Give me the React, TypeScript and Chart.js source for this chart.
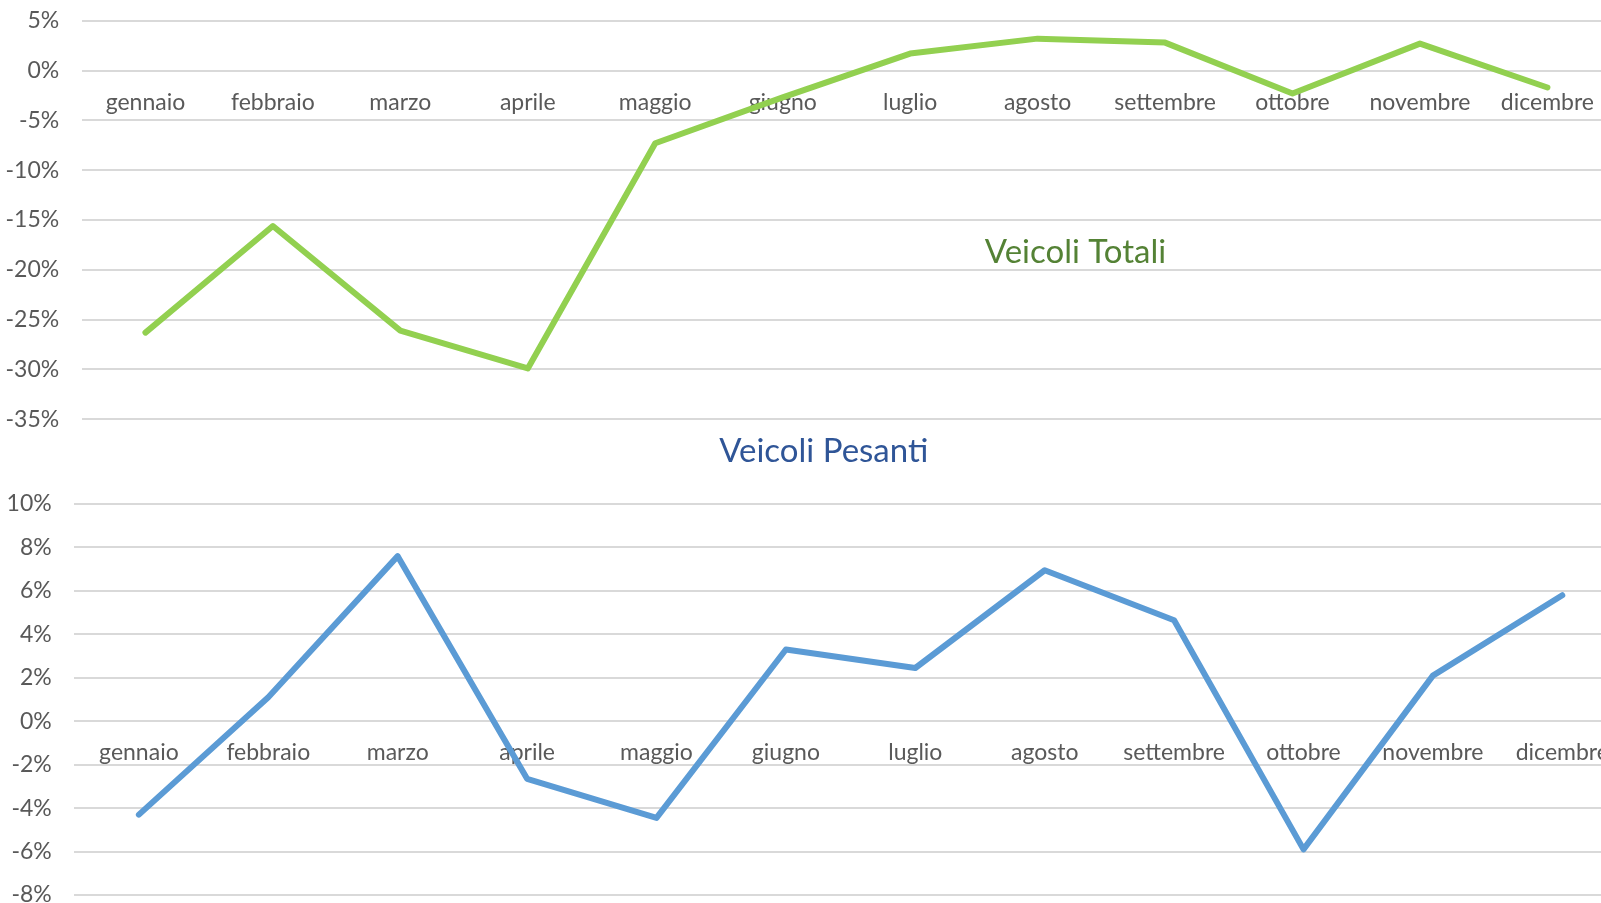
import React, { useEffect, useRef } from "react";
import { Chart, registerables } from "chart.js";

Chart.register(...registerables);

const months = [
  "gennaio", "febbraio", "marzo", "aprile", "maggio", "giugno",
  "luglio", "agosto", "settembre", "ottobre", "novembre", "dicembre",
];

const totaliValues = [-26.3, -15.6, -26.1, -29.9, -7.3, -2.7, 1.7, 3.2, 2.8, -2.3, 2.7, -1.7];
const pesantiValues = [-4.3, 1.1, 7.6, -2.65, -4.45, 3.3, 2.45, 6.95, 4.65, -5.9, 2.1, 5.8];

const totaliAxis = [-35, 5, 5]; // min, max, step
const pesantiAxis = [-8, 10, 2];

const totaliTitle = "Veicoli Totali";
const pesantiTitle = "Veicoli Pesanti";

const FONT = "Lato, 'Open Sans', sans-serif";
const TEXT = "#595959";
const GRID = "#D9D9D9";

function titlePlugin(text: string, color: string, x: number, y: number) {
  return {
    id: "panelTitle",
    afterDatasetsDraw(chart: any) {
      const ctx = chart.ctx;
      ctx.save();
      ctx.font = `33px ${FONT}`;
      ctx.fillStyle = color;
      ctx.textAlign = "center";
      ctx.textBaseline = "alphabetic";
      ctx.fillText(text, x, y);
      ctx.restore();
    },
  };
}

function buildConfig(
  values: number[],
  axis: number[],
  color: string,
  yWidth: number,
  padTop: number,
  padBottom: number,
  plugin: any
) {
  return {
    type: "line" as const,
    data: {
      labels: months,
      datasets: [
        {
          data: values,
          borderColor: color,
          borderWidth: 6,
          pointRadius: 0,
          pointHoverRadius: 0,
          tension: 0,
          borderJoinStyle: "round" as const,
          borderCapStyle: "round" as const,
          fill: false,
        },
      ],
    },
    options: {
      animation: false as const,
      responsive: false,
      devicePixelRatio: 1,
      events: [],
      layout: {
        autoPadding: false,
        padding: { top: padTop, bottom: padBottom, left: 0, right: 0 },
      },
      plugins: {
        legend: { display: false },
        tooltip: { enabled: false },
        title: { display: false },
      },
      scales: {
        x: {
          type: "category" as const,
          offset: true,
          position: { y: 0 },
          grid: { display: false, drawTicks: false },
          border: { display: false },
          ticks: {
            autoSkip: false,
            maxRotation: 0,
            minRotation: 0,
            padding: 18,
            color: TEXT,
            font: { family: FONT, size: 23 },
          },
        },
        y: {
          type: "linear" as const,
          min: axis[0],
          max: axis[1],
          grid: { color: GRID, lineWidth: 2, drawTicks: false },
          border: { display: false },
          afterFit(scale: any) {
            scale.width = yWidth;
          },
          ticks: {
            stepSize: axis[2],
            padding: 22.5,
            color: TEXT,
            font: { family: FONT, size: 23 },
            callback: (v: any) => `${v}%`,
          },
        },
      },
    },
    plugins: [plugin],
  };
}

// canvas placement (page coordinates)
const TOP_CANVAS_Y = -20;
const BOT_CANVAS_Y = 420;

export default function App() {
  const topRef = useRef<HTMLCanvasElement>(null);
  const botRef = useRef<HTMLCanvasElement>(null);

  useEffect(() => {
    document.documentElement.style.overflow = "hidden";
    document.body.style.overflow = "hidden";
    // top chart: plot area from y=20.7 to y=419.3 on the page
    const top = new Chart(
      topRef.current as HTMLCanvasElement,
      buildConfig(
        totaliValues,
        totaliAxis,
        "#92D050",
        81.7,
        20.7 - TOP_CANVAS_Y,
        480 - (419.3 - TOP_CANVAS_Y),
        titlePlugin(totaliTitle, "#548235", 1075.5, 263.3 - TOP_CANVAS_Y)
      ) as any
    );
    // bottom chart: plot area from y=504 to y=895 on the page
    const bot = new Chart(
      botRef.current as HTMLCanvasElement,
      buildConfig(
        pesantiValues,
        pesantiAxis,
        "#5B9BD5",
        74.2,
        504 - BOT_CANVAS_Y,
        520 - (895 - BOT_CANVAS_Y),
        titlePlugin(pesantiTitle, "#2F5597", 823.7, 461.7 - BOT_CANVAS_Y)
      ) as any
    );
    return () => {
      top.destroy();
      bot.destroy();
    };
  }, []);

  return (
    <div
      style={{
        position: "absolute",
        left: 0,
        top: 0,
        width: 1601,
        height: 903,
        overflow: "hidden",
        background: "#ffffff",
      }}
    >
      <canvas
        ref={topRef}
        width={1612}
        height={480}
        style={{ position: "absolute", left: 0, top: TOP_CANVAS_Y, width: 1612, height: 480 }}
      />
      <canvas
        ref={botRef}
        width={1627}
        height={520}
        style={{ position: "absolute", left: 0, top: BOT_CANVAS_Y, width: 1627, height: 520 }}
      />
    </div>
  );
}
